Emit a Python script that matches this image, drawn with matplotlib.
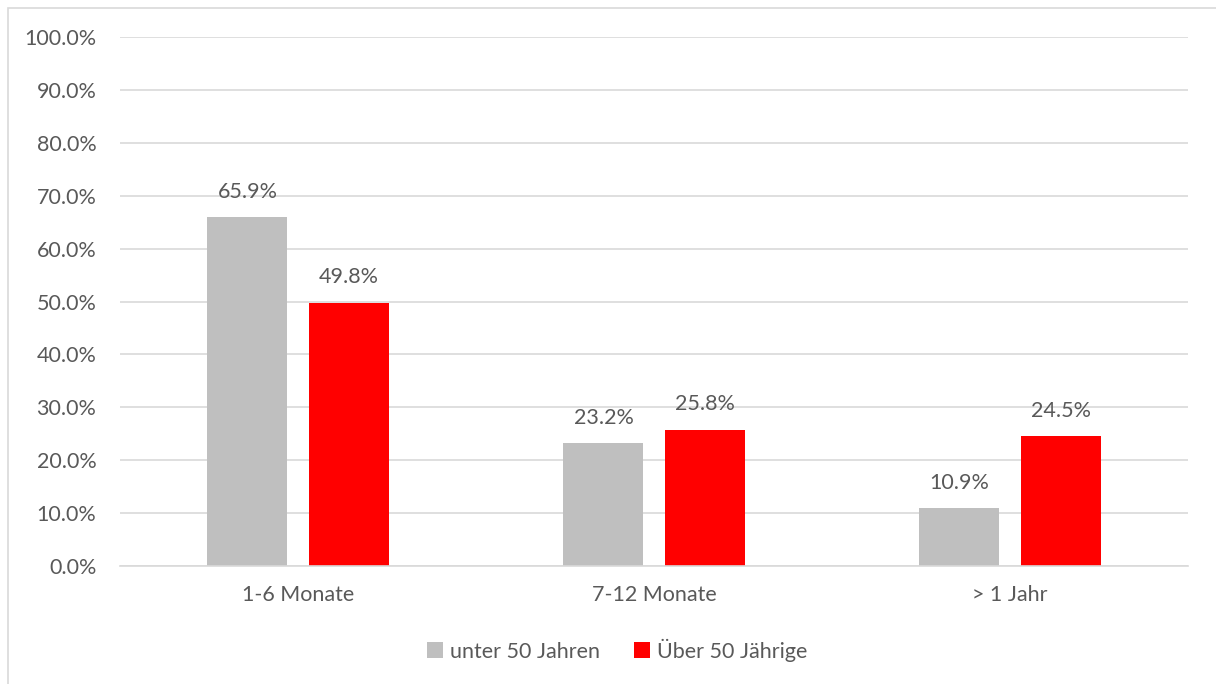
import matplotlib.pyplot as plt
import numpy as np
from matplotlib.patches import Rectangle

categories = ['1-6 Monate', '7-12 Monate', '> 1 Jahr']
series_names = ['unter 50 Jahren', 'Über 50 Jährige']
unter_50 = [65.9, 23.2, 10.9]
ueber_50 = [49.8, 25.8, 24.5]
y_ticks = [0, 10, 20, 30, 40, 50, 60, 70, 80, 90, 100]

text_col = '#595959'
fs = 15.5
plt.rcParams['font.family'] = ['Lato', 'DejaVu Sans']

fig = plt.figure(figsize=(12.16, 6.84), dpi=100)
fig.patches.append(Rectangle((8 / 1216, -0.1), 1.2, 1 - 8 / 684 + 0.1,
                             transform=fig.transFigure, fill=False,
                             edgecolor='#D9D9D9', linewidth=1.2))
ax = fig.add_axes([120 / 1216, 1 - 566 / 684, 1068 / 1216, 529 / 684])

x = np.arange(len(categories))
w = 0.225
off = 0.142
b1 = ax.bar(x - off, unter_50, w, color='#BFBFBF', label=series_names[0], zorder=2)
b2 = ax.bar(x + off, ueber_50, w, color='#FF0000', label=series_names[1], zorder=2)
for bars, vals in ((b1, unter_50), (b2, ueber_50)):
    for b, v in zip(bars, vals):
        ax.annotate(f'{v:.1f}%', (b.get_x() + b.get_width() / 2, v),
                    xytext=(0, 11), textcoords='offset points',
                    ha='center', va='bottom', fontsize=fs, color=text_col)

ax.set_xlim(-0.5, 2.5)
ax.set_ylim(0, 100)
ax.set_yticks(y_ticks)
ax.set_yticklabels([f'{t:.1f}%' for t in y_ticks])
ax.set_xticks(x)
ax.set_xticklabels(categories)
ax.tick_params(axis='both', length=0, labelsize=fs, labelcolor=text_col)
ax.tick_params(axis='y', pad=17)
ax.tick_params(axis='x', pad=14)
ax.grid(axis='y', color='#D9D9D9', linewidth=1.2, zorder=0)
for s in ['top', 'right', 'left']:
    ax.spines[s].set_visible(False)
ax.spines['bottom'].set_color('#D9D9D9')
ax.spines['bottom'].set_linewidth(1.2)

leg = fig.legend(loc='center', bbox_to_anchor=(617 / 1216, 1 - 650 / 684), ncol=2,
                 frameon=False, fontsize=fs, handlelength=0.75, handleheight=0.75,
                 handletextpad=0.3, columnspacing=1.6)
for t in leg.get_texts():
    t.set_color(text_col)

fig.savefig('out.png', dpi=100)
